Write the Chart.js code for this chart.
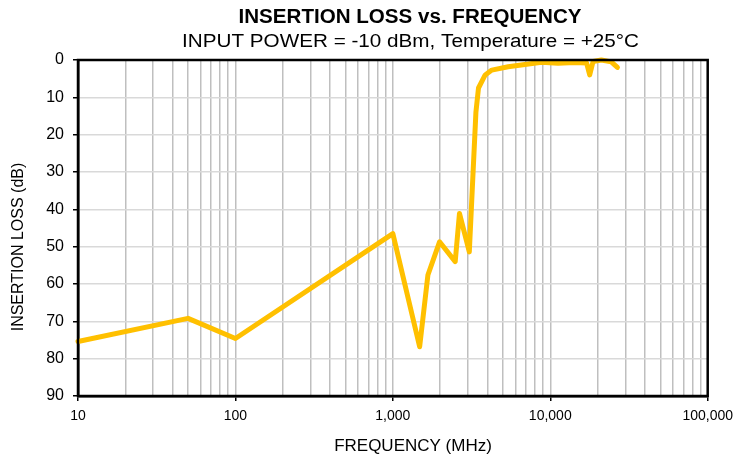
<!DOCTYPE html>
<html>
<head>
<meta charset="utf-8">
<script src="https://cdn.jsdelivr.net/npm/chart.js@4.4.1/dist/chart.umd.min.js"></script>
<style>
  body { margin: 0; background: #fff; }
  #wrap { width: 740px; height: 457px; }
</style>
</head>
<body>
<div id="wrap"><canvas id="lossChart" width="740" height="457"></canvas></div>
<script>
// values
let freqMHz = [10, 50, 100, 1000, 1480, 1670, 1980, 2490, 2650, 3060, 3370, 3500, 3860, 4250, 5400, 8800, 11200, 14300, 17000, 17800, 18700, 21100, 24400, 26700];
let lossDb = [75.4, 69.2, 74.6, 46.5, 76.8, 57.6, 48.7, 54.0, 41.1, 51.4, 14.0, 7.5, 4.0, 2.7, 1.8, 0.6, 0.9, 0.7, 0.8, 4.0, 0.4, 0.0, 0.5, 2.0];

let decades = [10, 100, 1000, 10000, 100000];
let yTicks = [0, 10, 20, 30, 40, 50, 60, 70, 80, 90];

let titleText = "INSERTION LOSS vs. FREQUENCY";
let subTitleText = "INPUT POWER = -10 dBm, Temperature = +25°C";
let xTitle = "FREQUENCY (MHz)";
let yTitle = "INSERTION LOSS (dB)";

let fontFam = "'Liberation Sans', Arial, sans-serif";

// every 1..9 x decade gets a grid line
let xGridTicks = [];
decades.forEach((d, i) => {
  if (i == decades.length - 1) {
    xGridTicks.push(d);
    return;
  }
  for (let m = 1; m < 10; m++) xGridTicks.push(d * m);
});

function isDecade(v) {
  return decades.indexOf(v) >= 0;
}

let points = freqMHz.map((f, i) => ({ x: f, y: lossDb[i] }));

// the reference text is a little wider than its height, so stretch it
function fitText(ctx, str, cx, cy, font, w) {
  ctx.save();
  ctx.font = font;
  let m = ctx.measureText(str).width;
  ctx.translate(cx, cy);
  ctx.scale(w / m, 1);
  ctx.fillText(str, 0, 0);
  ctx.restore();
}

let textPlugin = {
  id: "textPlugin",
  afterDraw(chart) {
    let ctx = chart.ctx;
    let area = chart.chartArea;
    ctx.save();
    // box around plot
    ctx.strokeStyle = "#000";
    ctx.lineWidth = 2.5;
    ctx.strokeRect(area.left, area.top, area.right - area.left, area.bottom - area.top);

    ctx.fillStyle = "#000";
    ctx.textAlign = "center";
    ctx.textBaseline = "middle";
    fitText(ctx, titleText, 410, 17.5, "bold 19.5px " + fontFam, 343);
    fitText(ctx, subTitleText, 410.5, 42, "18.8px " + fontFam, 457);

    ctx.font = "17px " + fontFam;
    ctx.fillText(xTitle, 413, 446.5);

    ctx.font = "16px " + fontFam;
    ctx.translate(18.5, 247);
    ctx.rotate(-Math.PI / 2);
    ctx.fillText(yTitle, 0, 0);
    ctx.restore();
  },
};

let ctx = document.getElementById("lossChart").getContext("2d");
new Chart(ctx, {
  type: "line",
  data: {
    datasets: [
      {
        label: "Insertion loss",
        data: points,
        borderColor: "#FFC000",
        backgroundColor: "#FFC000",
        borderWidth: 5,
        pointRadius: 0,
        tension: 0,
        borderJoinStyle: "round",
        borderCapStyle: "round",
        clip: false,
      },
    ],
  },
  options: {
    responsive: false,
    animation: false,
    devicePixelRatio: 1,
    layout: { padding: { top: 60, right: 30, left: 0, bottom: 0 } },
    plugins: {
      legend: { display: false },
      title: { display: false },
      tooltip: { enabled: false },
    },
    scales: {
      x: {
        type: "logarithmic",
        min: 10,
        max: 100000,
        afterFit(scale) {
          scale.height = 61;
        },
        afterBuildTicks(scale) {
          scale.ticks = xGridTicks.map((v) => ({ value: v, major: isDecade(v) }));
        },
        border: { display: true, color: "#000", width: 2.5 },
        grid: {
          color: "#bfbfbf",
          lineWidth: 1.5,
          tickLength: 5,
          tickColor: (c) => (c.tick && isDecade(c.tick.value) ? "#000" : "rgba(0,0,0,0)"),
        },
        ticks: {
          autoSkip: false,
          maxRotation: 0,
          color: "#000",
          padding: 7,
          font: { family: fontFam, size: 14 },
          callback: (v) => (isDecade(v) ? v.toLocaleString("en-US") : ""),
        },
      },
      y: {
        min: 0,
        max: 90,
        reverse: true,
        afterFit(scale) {
          scale.width = 78;
        },
        afterBuildTicks(scale) {
          scale.ticks = yTicks.map((v) => ({ value: v }));
        },
        border: { display: true, color: "#000", width: 2.5 },
        grid: {
          color: "#d9d9d9",
          lineWidth: 1.5,
          tickLength: 5,
          tickColor: "#000",
        },
        ticks: {
          color: "#000",
          padding: 9,
          font: { family: fontFam, size: 16 },
        },
      },
    },
  },
  plugins: [textPlugin],
});
</script>
</body>
</html>
